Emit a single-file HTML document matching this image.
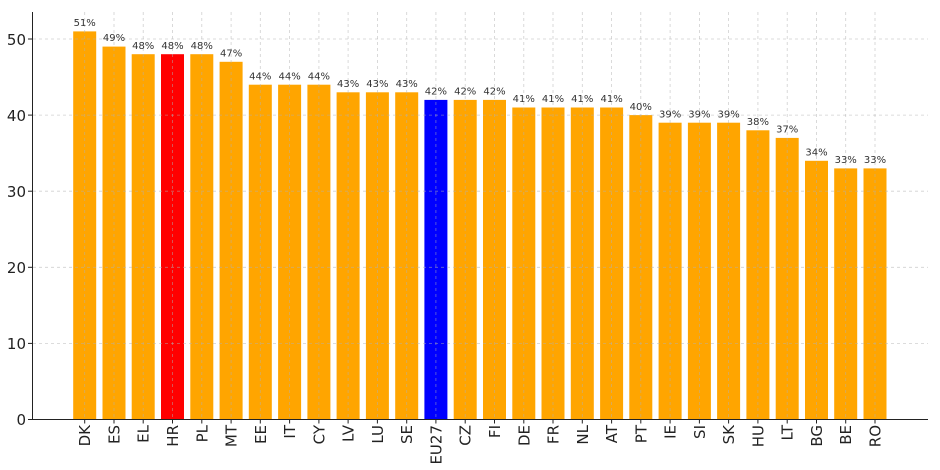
<!DOCTYPE html>
<html><head><meta charset="utf-8"><style>body{margin:0;background:#fff}svg{display:block}</style></head><body>
<svg width="940" height="470" xmlns="http://www.w3.org/2000/svg" font-family="DejaVu Sans, Liberation Sans, sans-serif">
<rect width="940" height="470" fill="#fff"/>
<g fill="#ffa500">
<rect x="73.2" y="31.4" width="23" height="388.1"/>
<rect x="102.5" y="46.6" width="23" height="372.9"/>
<rect x="131.7" y="54.2" width="23" height="365.3"/>
<rect x="161" y="54.2" width="23" height="365.3" fill="#ff0000"/>
<rect x="190.3" y="54.2" width="23" height="365.3"/>
<rect x="219.6" y="61.8" width="23" height="357.7"/>
<rect x="248.8" y="84.7" width="23" height="334.8"/>
<rect x="278.1" y="84.7" width="23" height="334.8"/>
<rect x="307.4" y="84.7" width="23" height="334.8"/>
<rect x="336.6" y="92.3" width="23" height="327.2"/>
<rect x="365.9" y="92.3" width="23" height="327.2"/>
<rect x="395.2" y="92.3" width="23" height="327.2"/>
<rect x="424.4" y="99.9" width="23" height="319.6" fill="#0000ff"/>
<rect x="453.7" y="99.9" width="23" height="319.6"/>
<rect x="483" y="99.9" width="23" height="319.6"/>
<rect x="512.3" y="107.5" width="23" height="312"/>
<rect x="541.5" y="107.5" width="23" height="312"/>
<rect x="570.8" y="107.5" width="23" height="312"/>
<rect x="600.1" y="107.5" width="23" height="312"/>
<rect x="629.3" y="115.1" width="23" height="304.4"/>
<rect x="658.6" y="122.7" width="23" height="296.8"/>
<rect x="687.9" y="122.7" width="23" height="296.8"/>
<rect x="717.1" y="122.7" width="23" height="296.8"/>
<rect x="746.4" y="130.3" width="23" height="289.2"/>
<rect x="775.7" y="137.9" width="23" height="281.6"/>
<rect x="805" y="160.8" width="23" height="258.7"/>
<rect x="834.2" y="168.4" width="23" height="251.1"/>
<rect x="863.5" y="168.4" width="23" height="251.1"/>
</g>
<g stroke="#b0b0b0" stroke-opacity="0.6" stroke-width="0.8" stroke-dasharray="3,3">
<line x1="33" x2="928" y1="343.4" y2="343.4"/><line x1="33" x2="928" y1="267.3" y2="267.3"/><line x1="33" x2="928" y1="191.2" y2="191.2"/><line x1="33" x2="928" y1="115.1" y2="115.1"/><line x1="33" x2="928" y1="39" y2="39"/>
<line y1="12" y2="419" x1="84.7" x2="84.7"/><line y1="12" y2="419" x1="114" x2="114"/><line y1="12" y2="419" x1="143.2" x2="143.2"/><line y1="12" y2="419" x1="172.5" x2="172.5"/><line y1="12" y2="419" x1="201.8" x2="201.8"/><line y1="12" y2="419" x1="231.1" x2="231.1"/><line y1="12" y2="419" x1="260.3" x2="260.3"/><line y1="12" y2="419" x1="289.6" x2="289.6"/><line y1="12" y2="419" x1="318.9" x2="318.9"/><line y1="12" y2="419" x1="348.1" x2="348.1"/><line y1="12" y2="419" x1="377.4" x2="377.4"/><line y1="12" y2="419" x1="406.7" x2="406.7"/><line y1="12" y2="419" x1="435.9" x2="435.9"/><line y1="12" y2="419" x1="465.2" x2="465.2"/><line y1="12" y2="419" x1="494.5" x2="494.5"/><line y1="12" y2="419" x1="523.8" x2="523.8"/><line y1="12" y2="419" x1="553" x2="553"/><line y1="12" y2="419" x1="582.3" x2="582.3"/><line y1="12" y2="419" x1="611.6" x2="611.6"/><line y1="12" y2="419" x1="640.8" x2="640.8"/><line y1="12" y2="419" x1="670.1" x2="670.1"/><line y1="12" y2="419" x1="699.4" x2="699.4"/><line y1="12" y2="419" x1="728.6" x2="728.6"/><line y1="12" y2="419" x1="757.9" x2="757.9"/><line y1="12" y2="419" x1="787.2" x2="787.2"/><line y1="12" y2="419" x1="816.5" x2="816.5"/><line y1="12" y2="419" x1="845.7" x2="845.7"/><line y1="12" y2="419" x1="875" x2="875"/>
</g>
<g stroke="#222" stroke-width="1"><line x1="32.5" y1="12" x2="32.5" y2="420"/><line x1="32" y1="419.5" x2="928" y2="419.5"/>
<line x1="28" x2="32.5" y1="419.5" y2="419.5"/><line x1="28" x2="32.5" y1="343.4" y2="343.4"/><line x1="28" x2="32.5" y1="267.3" y2="267.3"/><line x1="28" x2="32.5" y1="191.2" y2="191.2"/><line x1="28" x2="32.5" y1="115.1" y2="115.1"/><line x1="28" x2="32.5" y1="39" y2="39"/>
<path d="M84.7 419.5v4M114 419.5v4M143.2 419.5v4M172.5 419.5v4M201.8 419.5v4M231.1 419.5v4M260.3 419.5v4M289.6 419.5v4M318.9 419.5v4M348.1 419.5v4M377.4 419.5v4M406.7 419.5v4M435.9 419.5v4M465.2 419.5v4M494.5 419.5v4M523.8 419.5v4M553 419.5v4M582.3 419.5v4M611.6 419.5v4M640.8 419.5v4M670.1 419.5v4M699.4 419.5v4M728.6 419.5v4M757.9 419.5v4M787.2 419.5v4M816.5 419.5v4M845.7 419.5v4M875 419.5v4"/></g>
<g font-size="15" fill="#222" text-anchor="end">
<text x="26" y="425">0</text><text x="26" y="349">10</text><text x="26" y="273">20</text><text x="26" y="197">30</text><text x="26" y="121">40</text><text x="26" y="45">50</text>
</g>
<g font-size="10" fill="#333" text-anchor="middle">
<text x="84.7" y="26">51%</text><text x="114" y="41">49%</text><text x="143.2" y="49">48%</text><text x="172.5" y="49">48%</text><text x="201.8" y="49">48%</text><text x="231.1" y="56.5">47%</text><text x="260.3" y="79.5">44%</text><text x="289.6" y="79.5">44%</text><text x="318.9" y="79.5">44%</text><text x="348.1" y="87">43%</text><text x="377.4" y="87">43%</text><text x="406.7" y="87">43%</text><text x="435.9" y="94.5">42%</text><text x="465.2" y="94.5">42%</text><text x="494.5" y="94.5">42%</text><text x="523.8" y="102">41%</text><text x="553" y="102">41%</text><text x="582.3" y="102">41%</text><text x="611.6" y="102">41%</text><text x="640.8" y="110">40%</text><text x="670.1" y="117.5">39%</text><text x="699.4" y="117.5">39%</text><text x="728.6" y="117.5">39%</text><text x="757.9" y="125">38%</text><text x="787.2" y="132.5">37%</text><text x="816.5" y="155.5">34%</text><text x="845.7" y="163">33%</text><text x="875" y="163">33%</text>
</g>
<g font-size="15" fill="#222" text-anchor="end">
<text transform="translate(90.2,425) rotate(-90)">DK</text><text transform="translate(119.5,425) rotate(-90)">ES</text><text transform="translate(148.7,425) rotate(-90)">EL</text><text transform="translate(178,425) rotate(-90)">HR</text><text transform="translate(207.3,425) rotate(-90)">PL</text><text transform="translate(236.6,425) rotate(-90)">MT</text><text transform="translate(265.8,425) rotate(-90)">EE</text><text transform="translate(295.1,425) rotate(-90)">IT</text><text transform="translate(324.4,425) rotate(-90)">CY</text><text transform="translate(353.6,425) rotate(-90)">LV</text><text transform="translate(382.9,425) rotate(-90)">LU</text><text transform="translate(412.2,425) rotate(-90)">SE</text><text transform="translate(441.4,425) rotate(-90)">EU27</text><text transform="translate(470.7,425) rotate(-90)">CZ</text><text transform="translate(500,425) rotate(-90)">FI</text><text transform="translate(529.3,425) rotate(-90)">DE</text><text transform="translate(558.5,425) rotate(-90)">FR</text><text transform="translate(587.8,425) rotate(-90)">NL</text><text transform="translate(617.1,425) rotate(-90)">AT</text><text transform="translate(646.3,425) rotate(-90)">PT</text><text transform="translate(675.6,425) rotate(-90)">IE</text><text transform="translate(704.9,425) rotate(-90)">SI</text><text transform="translate(734.1,425) rotate(-90)">SK</text><text transform="translate(763.4,425) rotate(-90)">HU</text><text transform="translate(792.7,425) rotate(-90)">LT</text><text transform="translate(822,425) rotate(-90)">BG</text><text transform="translate(851.2,425) rotate(-90)">BE</text><text transform="translate(880.5,425) rotate(-90)">RO</text>
</g>
</svg>
</body></html>
